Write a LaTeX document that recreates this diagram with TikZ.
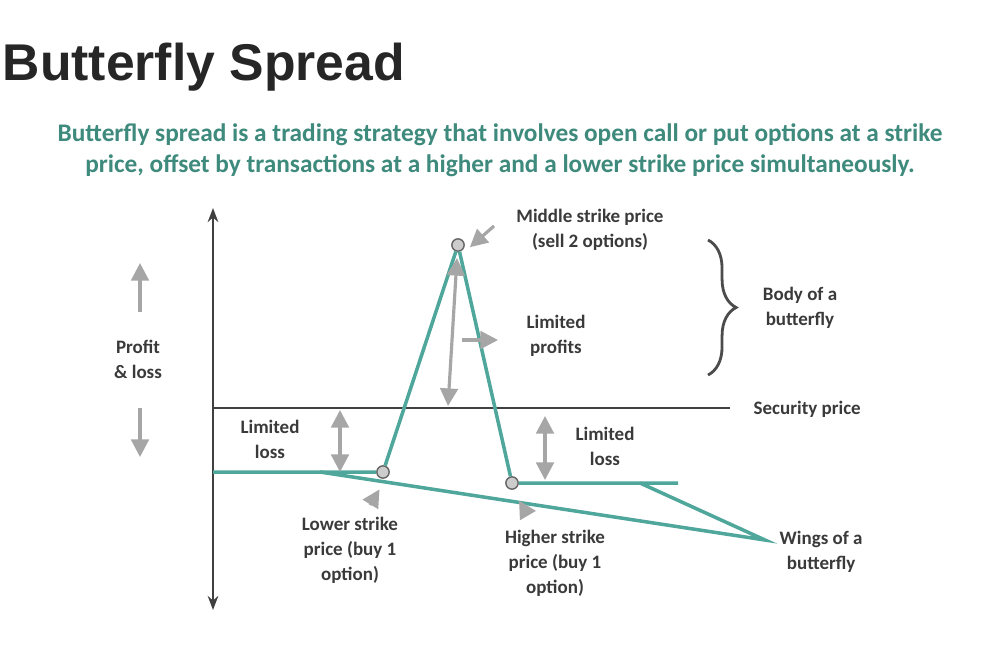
\documentclass[tikz,border=0pt]{standalone}
\usepackage{fontspec}
\setmainfont{Carlito}
\newfontfamily\titlefont{Liberation Sans}
\usetikzlibrary{arrows.meta,decorations.pathreplacing}
\definecolor{teal1}{HTML}{4FA69A}
\definecolor{tealtext}{HTML}{3E8A7C}
\definecolor{graytext}{HTML}{3A3A3A}
\tikzset{lbl/.style={align=center,font=\bfseries\fontsize{5.4}{7.1}\selectfont,text=graytext,inner sep=0pt},
         garrow/.style={draw=gray!70,line width=0.9pt,-{Triangle[length=5pt,width=5pt]}},
         gdouble/.style={draw=gray!70,line width=0.9pt,{Triangle[length=5pt,width=5pt]}-{Triangle[length=5pt,width=5pt]}},
         payoff/.style={draw=teal1,line width=1pt},
         strike/.style={circle,draw=gray!80!black,fill=gray!40,inner sep=0pt,minimum size=3.5pt}}

\begin{document}
\begin{tikzpicture}[x=0.01cm,y=-0.01cm]
\useasboundingbox[fill=white] (0,0) rectangle (1000,666);

% title and caption
\node[anchor=base west,inner sep=0pt,font=\titlefont\bfseries\fontsize{14.7}{16}\selectfont,text=black!85] (title) at (2,80) {Butterfly Spread};
\node[align=center,font=\bfseries\fontsize{7.2}{8.8}\selectfont,text=tealtext] (caption) at (500,150)
  {Butterfly spread is a trading strategy that involves open call or put options at a strike\\
   price, offset by transactions at a higher and a lower strike price simultaneously.};

% axes
\coordinate (ytop) at (213,208);
\coordinate (ybot) at (213,610);
\coordinate (xl) at (213,408);
\coordinate (xr) at (730,408);
\draw[black!75,line width=0.8pt,{Stealth[length=4pt]}-{Stealth[length=4pt]}] (ytop) -- (ybot);
\draw[black!75,line width=0.8pt] (xl) -- (xr);

% payoff
\coordinate (p0) at (213,472);
\node[strike] (low) at (383,472) {};
\node[strike] (mid) at (458,245) {};
\node[strike] (high) at (512,483) {};
\coordinate (p4) at (678,483);
\draw[payoff] (p0) -- (low) -- (mid) -- (high) -- (p4);

% wings
\coordinate (w1) at (320,472);
\coordinate (w2) at (640,483);
\coordinate (wt) at (765,540);
\draw[payoff] (w1) -- (wt) -- (w2);

% labels
\node[lbl] (midlbl) at (590,230) {Middle strike price\\(sell 2 options)};
\node[lbl] (body) at (800,308) {Body of a\\butterfly};
\node[lbl] (profits) at (556,336) {Limited\\profits};
\node[lbl] (pnl) at (138,359) {Profit\\\& loss};
\node[lbl,anchor=west] (sec) at (753,409) {Security price};
\node[lbl] (loss1) at (270,439) {Limited\\loss};
\node[lbl] (loss2) at (605,446) {Limited\\loss};
\node[lbl] (lowlbl) at (350,550) {Lower strike\\price (buy 1\\option)};
\node[lbl] (highlbl) at (555,563) {Higher strike\\price (buy 1\\option)};
\node[lbl,anchor=west] (wings) at (779,552) {Wings of a\\butterfly};

% brace
\draw[black!70,line width=0.8pt,decorate,decoration={brace,amplitude=8pt}] (708,240) -- (708,375);

% gray arrows
\coordinate (u1) at (140,312); \coordinate (u2) at (140,263);
\coordinate (d1) at (140,408); \coordinate (d2) at (140,457);
\draw[garrow] (u1) -- (u2);
\draw[garrow] (d1) -- (d2);
\coordinate (a1) at (340,410); \coordinate (a2) at (340,472);
\draw[gdouble] (a1) -- (a2);
\coordinate (b1) at (545,416); \coordinate (b2) at (545,480);
\draw[gdouble] (b1) -- (b2);
\coordinate (c1) at (448,406); \coordinate (c2) at (457,258);
\draw[gdouble] (c1) -- (c2);
\coordinate (r1) at (462,340); \coordinate (r2) at (498,340);
\draw[garrow] (r1) -- (r2);
\coordinate (m1) at (494,226);
\draw[garrow] (m1) -- ([shift={(2pt,-2pt)}]mid.north east);
\coordinate (l1) at (370,505);
\draw[garrow] (l1) -- ([shift={(-1pt,-3pt)}]low.south);
\coordinate (h1) at (527,514);
\draw[garrow] (h1) -- ([shift={(2pt,-3pt)}]high.south);
\end{tikzpicture}
\end{document}
